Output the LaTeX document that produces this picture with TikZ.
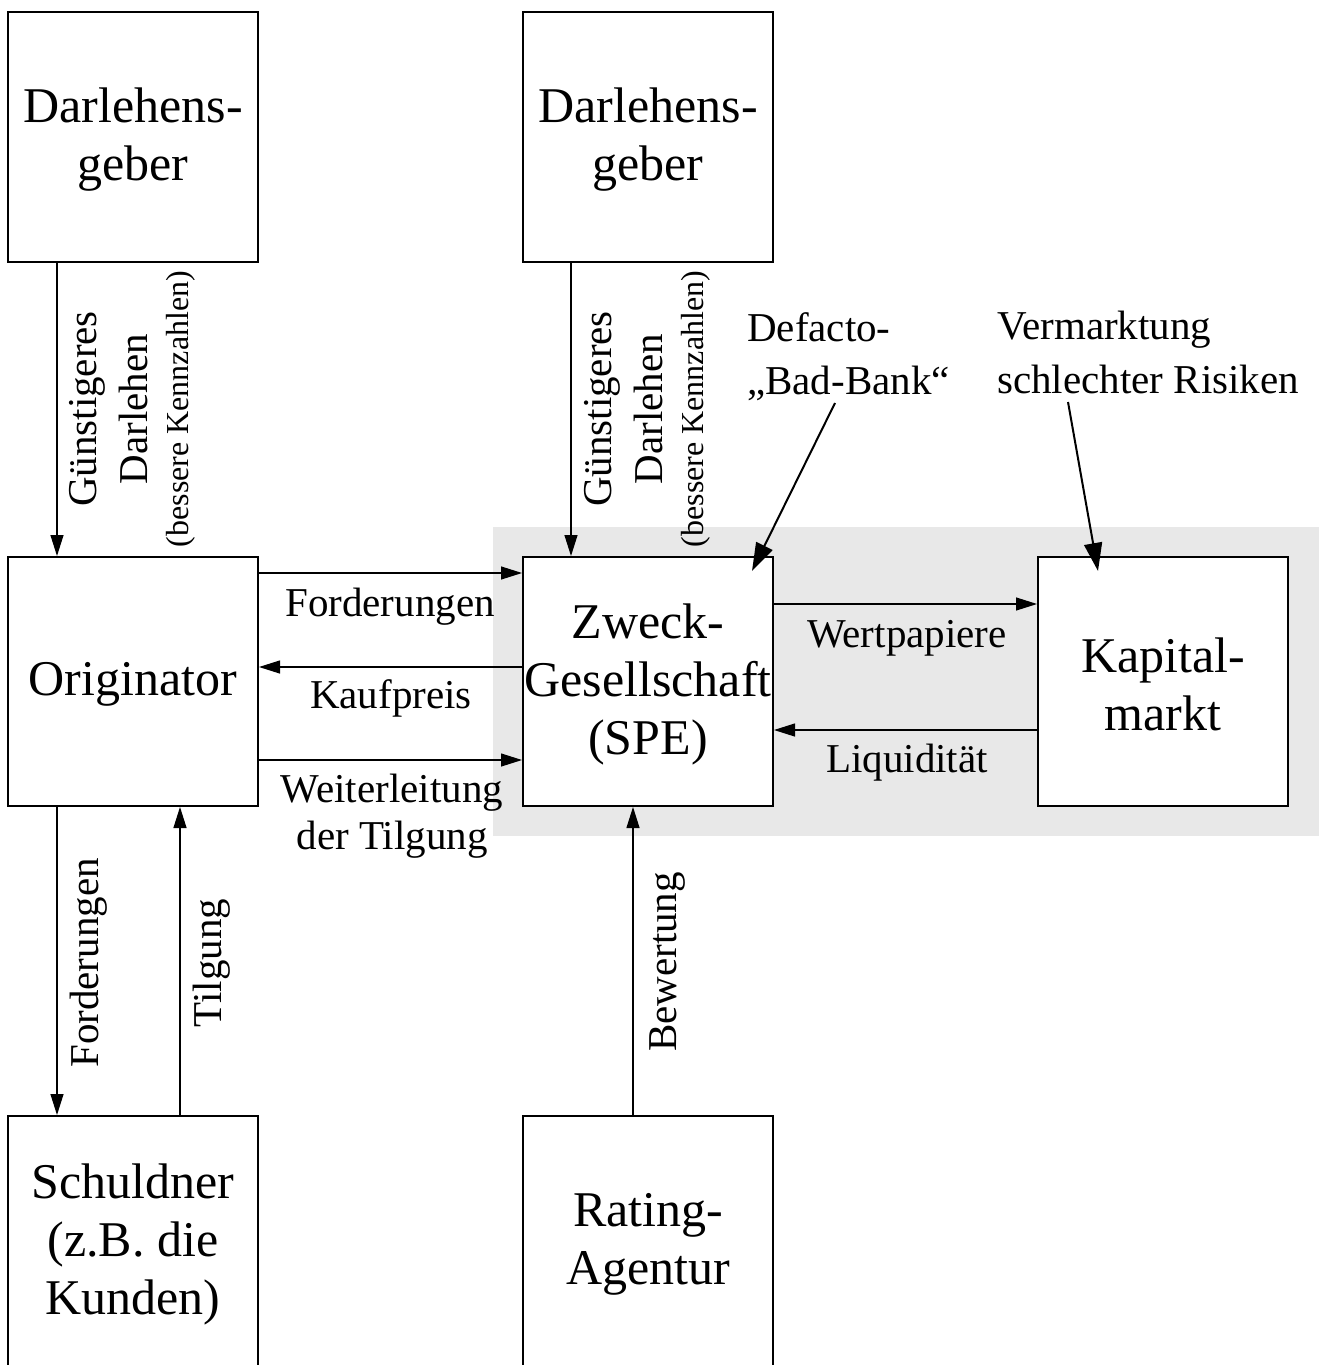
\documentclass[tikz,border=0pt]{standalone}
\usepackage{fontspec}
\setmainfont{Liberation Serif}
\usetikzlibrary{arrows.meta,calc}
\definecolor{bandgray}{RGB}{232,232,232}
\begin{document}
\begin{tikzpicture}[x=1pt,y=-1pt,
  box/.style={draw, fill=white, line width=2pt, minimum width=250pt, minimum height=250pt, inner sep=0pt},
  btxt/.style={align=center, inner sep=0pt, font=\fontsize{50}{58}\selectfont, yshift=-3pt},
  arr/.style={line width=1.2pt, -{Triangle[length=21pt,width=13pt]}},
  bigarr/.style={line width=2pt, -{Triangle[length=28pt,width=18pt]}},
  lbl/.style={font=\fontsize{41}{44}\selectfont, inner sep=0pt},
  ]
\useasboundingbox (0,0) rectangle (1319,1365);
\clip (0,0) rectangle (1319,1365);
\fill[bandgray] (493,527) rectangle (1319,836);

\node[box, label={[btxt]center:{Darlehens-\\geber}}] (d1) at (133,137) {};
\node[box, label={[btxt]center:{Darlehens-\\geber}}] (d2) at (648,137) {};
\node[box, minimum height=249pt, label={[btxt]center:{Originator}}] (orig) at (133,681.5) {};
\node[box, minimum height=249pt, label={[btxt]center:{Zweck-\\Gesellschaft\\(SPE)}}] (zweck) at (648,681.5) {};
\node[box, minimum height=249pt, label={[btxt]center:{Kapital-\\markt}}] (kap) at (1163,681.5) {};
\node[box, label={[btxt]center:{Schuldner\\(z.B. die\\Kunden)}}] (schuld) at (133,1241) {};
\node[box, label={[btxt]center:{Rating-\\Agentur}}] (rating) at (648,1241) {};

% top vertical arrows
\draw[arr] ([xshift=-76pt]d1.south) -- ([xshift=-76pt]orig.north);
\draw[arr] ([xshift=-77pt]d2.south) -- ([xshift=-77pt]zweck.north);
\node[lbl, rotate=90, align=center] (g1) at (132.5,409) {Günstigeres\\[7pt]Darlehen\\[-3pt]{\fontsize{32}{40}\selectfont(bessere Kennzahlen)}};
\node[lbl, rotate=90, align=center] (g2) at (647.5,409) {Günstigeres\\[7pt]Darlehen\\[-3pt]{\fontsize{32}{40}\selectfont(bessere Kennzahlen)}};

% originator <-> SPE
\draw[arr] ([yshift=108.5pt]orig.east) -- ([yshift=108.5pt]zweck.west);
\draw[arr] ([yshift=14.5pt]zweck.west) -- ([yshift=14.5pt]orig.east);
\draw[arr] ([yshift=-78.5pt]orig.east) -- ([yshift=-78.5pt]zweck.west);
\node[lbl, anchor=base] (lf) at (390,616) {Forderungen};
\node[lbl, anchor=base] (lk) at (391,708) {Kaufpreis};
\node[lbl, align=center, font=\fontsize{41}{47}\selectfont] (lw) at (392,816) {Weiterleitung\\der Tilgung};

% SPE <-> Kapitalmarkt
\draw[arr] ([yshift=77.5pt]zweck.east) -- ([yshift=77.5pt]kap.west);
\draw[arr] ([yshift=-48.5pt]kap.west) -- ([yshift=-48.5pt]zweck.east);
\node[lbl, anchor=base] (lwp) at (907,647) {Wertpapiere};
\node[lbl, anchor=base] (lli) at (907,772) {Liquidität};

% annotations
\node[lbl, align=left, anchor=north west, font=\fontsize{41}{53}\selectfont] (def) at (747,312) {Defacto-\\„Bad-Bank“};
\node[lbl, align=left, anchor=north west, font=\fontsize{41}{54}\selectfont] (ver) at (997,311) {Vermarktung\\schlechter Risiken};
\coordinate (defstart) at (835,403);
\coordinate (verstart) at (1068,402);
\draw[bigarr] (defstart) -- ([xshift=-22pt,yshift=-15pt]zweck.north east);
\draw[bigarr] (verstart) -- ([xshift=61pt,yshift=-15pt]kap.north west);

% bottom
\draw[arr] ([xshift=-76pt]orig.south) -- ([xshift=-76pt]schuld.north);
\draw[arr] ([xshift=47pt]schuld.north) -- ([xshift=47pt]orig.south);
\draw[arr] ([xshift=-15pt]rating.north) -- ([xshift=-15pt]zweck.south);
\node[lbl, rotate=90, anchor=base] (lfo) at (98,963) {Forderungen};
\node[lbl, rotate=90, anchor=base] (lti) at (221,963) {Tilgung};
\node[lbl, rotate=90, anchor=base] (lbe) at (676,962) {Bewertung};
\end{tikzpicture}
\end{document}
